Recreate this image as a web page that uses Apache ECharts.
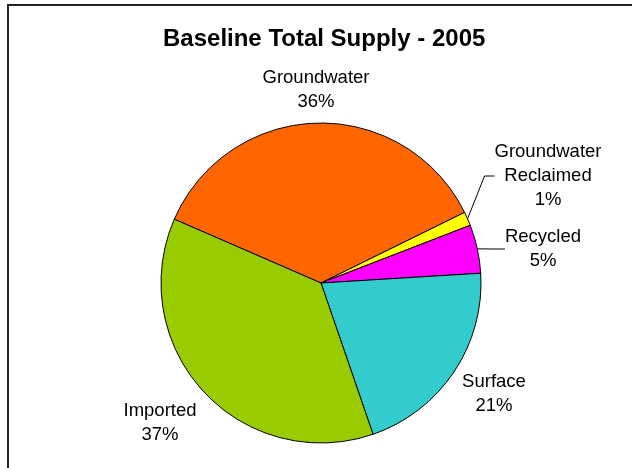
<!DOCTYPE html>
<html>
<head>
<meta charset="utf-8">
<script src="https://cdn.jsdelivr.net/npm/echarts@6/dist/echarts.min.js"></script>
<style>
html,body{margin:0;padding:0;background:#fff;}
#chart{width:632px;height:468px;}
</style>
</head>
<body>
<div id="chart"></div>
<script>
// Data
var categories = ['Groundwater', 'Groundwater\nReclaimed', 'Recycled', 'Surface', 'Imported'];
var shares = [36.2, 1.4, 4.9, 20.7, 36.8];
var colors = ['#FF6600', '#FFFF00', '#FF00FF', '#33CCCC', '#99CC00'];
var title = 'Baseline Total Supply - 2005';

// Label placement (style)
var labelPos = [[316, 90], [548, 176], [543, 249], [494, 394], [160, 423]];
var showLine = [false, true, true, false, false];

var chart = echarts.init(document.getElementById('chart'), null, {renderer: 'canvas'});
var data = categories.map(function (c, i) {
  return {
    name: c,
    value: shares[i],
    itemStyle: {color: colors[i]},
    labelLine: {show: showLine[i]}
  };
});
chart.setOption({
  animation: false,
  backgroundColor: '#ffffff',
  title: {
    text: title,
    left: 158,
    top: 22,
    textStyle: {fontFamily: 'Liberation Sans, Arial, sans-serif', fontWeight: 'bold', fontSize: 24, color: '#000'}
  },
  graphic: [{
    type: 'rect',
    shape: {x: 8, y: 5, width: 700, height: 600},
    style: {fill: 'none', stroke: '#222', lineWidth: 2},
    silent: true
  }],
  series: [{
    type: 'pie',
    center: [321, 283],
    radius: [0, 160],
    startAngle: 156.5,
    clockwise: true,
    percentPrecision: 0,
    avoidLabelOverlap: false,
    itemStyle: {borderColor: '#000', borderWidth: 1},
    label: {
      show: true,
      position: 'outside',
      formatter: function (p) { return p.name + '\n' + Math.round(p.percent) + '%'; },
      fontFamily: 'Liberation Sans, Arial, sans-serif',
      fontSize: 18.5,
      lineHeight: 24,
      color: '#000',
      align: 'center'
    },
    labelLine: {length: 8, length2: 10, lineStyle: {color: '#000', width: 1}, smooth: false},
    labelLayout: function (p) {
      var pos = labelPos[p.dataIndex];
      return {x: pos[0], y: pos[1], align: 'center', verticalAlign: 'middle'};
    },
    emphasis: {disabled: true},
    data: data
  }]
});
</script>
</body>
</html>
